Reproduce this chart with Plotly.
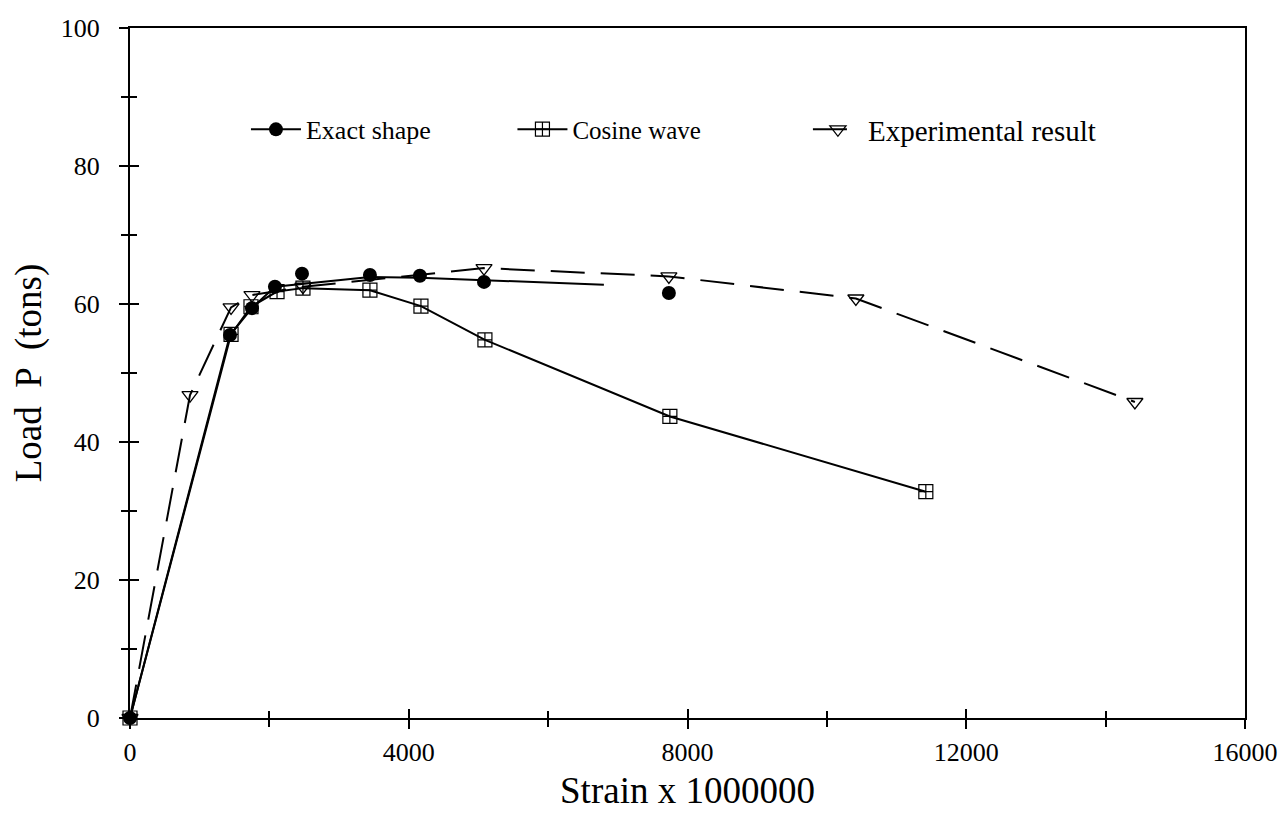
import plotly.graph_objects as go

# ---- data ----
exact_x = [0, 1435, 1750, 2080, 2468, 3443, 4160, 5080, 7733]
exact_y = [0, 55.5, 59.4, 62.5, 64.4, 64.2, 64.1, 63.2, 61.6]
exact_line_x = [0, 1435, 1750, 2080, 3443, 4160, 6800]
exact_line_y = [0, 55.5, 59.4, 62.5, 63.9, 63.8, 62.8]

cos_x = [0, 1450, 1736, 2110, 2482, 3443, 4175, 5093, 7747, 11420]
cos_y = [0, 55.6, 59.6, 61.8, 62.3, 62.0, 59.7, 54.8, 43.7, 32.8]

exp_x = [0, 861, 1450, 1750, 2482, 5080, 7733, 10416, 14420]
exp_y = [0, 46.8, 59.5, 61.3, 62.5, 65.2, 64.0, 60.8, 45.8]

x_ticks = [0, 4000, 8000, 12000, 16000]
x_tick_labels = ["0", "4000", "8000", "12000", "16000"]
y_ticks = [0, 20, 40, 60, 80, 100]
y_tick_labels = ["0", "20", "40", "60", "80", "100"]

FONT = "Liberation Serif"

fig = go.Figure()

fig.add_trace(go.Scatter(x=exact_line_x, y=exact_line_y, mode="lines",
                         line=dict(color="black", width=2), showlegend=False,
                         hoverinfo="skip", cliponaxis=False))
fig.add_trace(go.Scatter(x=exact_x, y=exact_y, mode="markers", name="Exact shape",
                         marker=dict(symbol="circle", size=14, color="black"),
                         showlegend=False, cliponaxis=False))
fig.add_trace(go.Scatter(x=[None], y=[None], mode="lines+markers", name="Exact shape",
                         line=dict(color="black", width=2),
                         marker=dict(symbol="circle", size=14, color="black"),
                         legend="legend"))

fig.add_trace(go.Scatter(x=cos_x, y=cos_y, mode="lines+markers", name="Cosine wave",
                         line=dict(color="black", width=2),
                         marker=dict(symbol="square-cross-open", size=14, color="black",
                                     line=dict(width=1.2)),
                         legend="legend2", cliponaxis=False))

fig.add_trace(go.Scatter(x=exp_x, y=exp_y, mode="lines+markers", name="Experimental result",
                         line=dict(color="black", width=2, dash="34px,16px"),
                         marker=dict(symbol="triangle-down-open", size=14, color="black",
                                     line=dict(width=1.3)),
                         legend="legend3", cliponaxis=False))

fig.add_trace(go.Scatter(x=[None], y=[None], xaxis="x2", yaxis="y2", showlegend=False))

axis_common = dict(showline=True, linecolor="black", linewidth=2, showgrid=False,
                   zeroline=False, tickcolor="black", tickwidth=2, automargin=False,
                   tickfont=dict(family=FONT, size=26, color="black"))

LEG_Y = 0.853

fig.update_layout(
    width=1287, height=818,
    paper_bgcolor="white", plot_bgcolor="white",
    margin=dict(l=122, r=50, t=20, b=108),
    font=dict(family=FONT, color="black"),
    xaxis=dict(range=[0, 16000], tickvals=x_ticks, ticktext=x_tick_labels,
               ticks="outside", ticklen=9, mirror=True, ticklabelstandoff=1,
               minor=dict(dtick=2000, ticks="outside", ticklen=7, tickcolor="black", tickwidth=2),
               title=dict(text="Strain x 1000000", font=dict(family=FONT, size=37), standoff=11),
               **axis_common),
    yaxis=dict(range=[0, 100], tickvals=y_ticks, ticktext=y_tick_labels,
               ticks="outside", ticklen=9, mirror=True, ticklabelstandoff=14,
               minor=dict(dtick=10, ticks="outside", ticklen=7, tickcolor="black", tickwidth=2),
               title=dict(text="Load  P  (tons)", font=dict(family=FONT, size=37), standoff=14),
               **axis_common),
    xaxis2=dict(range=[0, 16000], overlaying="x", side="bottom", tickvals=x_ticks,
                ticks="inside", ticklen=9, tickcolor="black", tickwidth=2,
                minor=dict(dtick=2000, ticks="inside", ticklen=7, tickcolor="black", tickwidth=2),
                showticklabels=False, showgrid=False, zeroline=False, showline=False),
    yaxis2=dict(range=[0, 100], overlaying="y", side="left", tickvals=y_ticks,
                ticks="inside", ticklen=9, tickcolor="black", tickwidth=2,
                minor=dict(dtick=10, ticks="inside", ticklen=7, tickcolor="black", tickwidth=2),
                showticklabels=False, showgrid=False, zeroline=False, showline=False),
    legend=dict(x=0.104, y=LEG_Y, xanchor="left", yanchor="middle", bgcolor="rgba(0,0,0,0)",
                font=dict(family=FONT, size=26), itemwidth=50),
    legend2=dict(x=0.343, y=LEG_Y, xanchor="left", yanchor="middle", bgcolor="rgba(0,0,0,0)",
                 font=dict(family=FONT, size=25), itemwidth=50),
    legend3=dict(x=0.608, y=LEG_Y, xanchor="left", yanchor="middle", bgcolor="rgba(0,0,0,0)",
                 font=dict(family=FONT, size=29), itemwidth=50),
)

fig.write_html("out.html")
